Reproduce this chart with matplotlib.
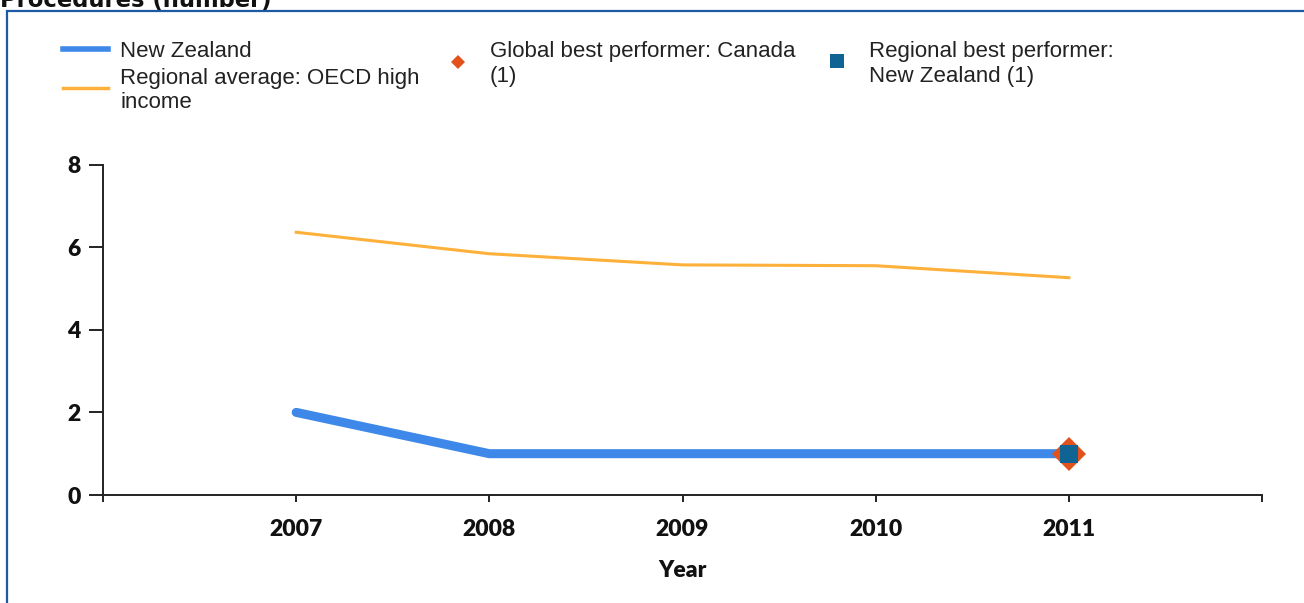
import matplotlib.pyplot as plt
from matplotlib.lines import Line2D
from matplotlib.patches import Rectangle

# data
years = [2007, 2008, 2009, 2010, 2011]
new_zealand = [2, 1, 1, 1, 1]
oecd_high_income = [6.36, 5.84, 5.57, 5.55, 5.26]
global_best_year = [2011]
global_best_value = [1]
regional_best_year = [2011]
regional_best_value = [1]

W, H = 1304, 603
fig = plt.figure(figsize=(W / 100, H / 100), dpi=100, facecolor="white")


def fx(x):
    return x / W


def fy(y):
    return 1 - y / H


# outer frame (only top and left edges are visible in the crop)
fig.patches.append(Rectangle((fx(7), fy(H + 20)), fx(W + 20), (H + 20 - 11) / H,
                             transform=fig.transFigure, fill=False,
                             edgecolor="#1B5AA5", linewidth=1.6))

fig.text(0, fy(7), "Procedures (number)", fontsize=16.3, fontweight="bold",
         family="DejaVu Sans", va="baseline", ha="left", color="#111111")

ax = fig.add_axes([fx(103), fy(495), fx(1262 - 103), (495 - 164.5) / H])

ax.plot(years, oecd_high_income, color="#FDB03A", linewidth=2.2, zorder=2)
ax.plot(years, new_zealand, color="#3D88E8", linewidth=6.5,
        solid_capstyle="round", solid_joinstyle="round", zorder=3)
ax.plot(global_best_year, global_best_value, linestyle="none", marker="D",
        markersize=17.5, color="#E2521C", markeredgewidth=0, zorder=4)
ax.plot(regional_best_year, regional_best_value, linestyle="none", marker="s",
        markersize=12.5, color="#0F6493", markeredgewidth=0, zorder=5)

ax.set_xlim(2006, 2012)
ax.set_ylim(0, 8)
ax.set_xticks(range(2006, 2013))
ax.set_xticklabels([""] + [str(y) for y in years] + [""])
ax.set_yticks([0, 2, 4, 6, 8])

for s in ["top", "right"]:
    ax.spines[s].set_visible(False)
for s in ["left", "bottom"]:
    ax.spines[s].set_linewidth(1.4)
    ax.spines[s].set_color("#222222")

ax.tick_params(axis="y", direction="out", length=10, width=1.4, pad=6,
               color="#222222")
ax.tick_params(axis="x", direction="out", length=5, width=1.4, pad=12.5,
               color="#222222")
for lab in ax.get_xticklabels() + ax.get_yticklabels():
    lab.set_family("Lato")
    lab.set_fontweight("heavy")
    lab.set_fontsize(16.5)
    lab.set_color("#111111")

ax.set_xlabel("Year", family="Lato", fontweight="heavy", fontsize=16.5,
              labelpad=14, color="#111111")

# legend drawn by hand to match the reference layout
leg_font = dict(family="Liberation Sans", fontsize=16, color="#222222",
                va="baseline", ha="left")
fig.lines.append(Line2D([fx(63), fx(108)], [fy(49), fy(49)], color="#3D88E8",
                        linewidth=4, transform=fig.transFigure))
fig.lines.append(Line2D([fx(63), fx(108)], [fy(88), fy(88)], color="#FDB03A",
                        linewidth=2.5, transform=fig.transFigure))
fig.text(fx(120), fy(57), "New Zealand", **leg_font)
fig.text(fx(120), fy(84), "Regional average: OECD high", **leg_font)
fig.text(fx(120), fy(108), "income", **leg_font)

fig.lines.append(Line2D([fx(458)], [fy(62)], marker="D", markersize=7.5,
                        color="#E2521C", markeredgewidth=0,
                        transform=fig.transFigure))
fig.text(fx(490), fy(57), "Global best performer: Canada", **leg_font)
fig.text(fx(490), fy(82), "(1)", **leg_font)

fig.lines.append(Line2D([fx(837)], [fy(61)], marker="s", markersize=10.5,
                        color="#0F6493", markeredgewidth=0,
                        transform=fig.transFigure))
fig.text(fx(869), fy(57), "Regional best performer:", **leg_font)
fig.text(fx(869), fy(82), "New Zealand (1)", **leg_font)

fig.savefig("out.png", dpi=100, facecolor="white")
